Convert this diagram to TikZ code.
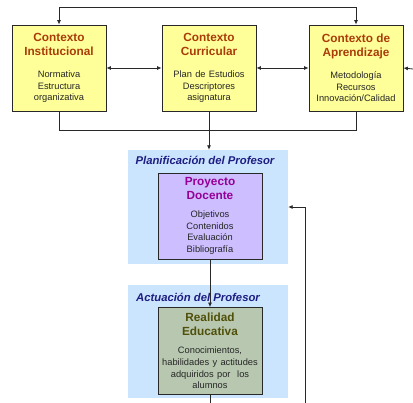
\documentclass[tikz,border=0pt]{standalone}
\usepackage{fontspec}
\setmainfont{Liberation Sans}
\usepackage{tikz}
\usetikzlibrary{arrows.meta}
\usetikzlibrary{calc}

\definecolor{ctxfill}{RGB}{255,255,153}
\definecolor{ctxtitle}{RGB}{170,60,10}
\definecolor{panelfill}{RGB}{204,229,255}
\definecolor{paneltext}{RGB}{30,30,130}
\definecolor{proyfill}{RGB}{204,190,255}
\definecolor{proytitle}{RGB}{150,0,150}
\definecolor{realfill}{RGB}{184,200,176}
\definecolor{realtitle}{RGB}{80,80,10}
\definecolor{linecol}{RGB}{40,40,40}

\newcommand{\boxtitle}[2]{{\fontsize{11.8}{14}\selectfont\bfseries\color{#1}#2\par}}
\newcommand{\boxbody}[1]{{\fontsize{9.3}{11.8}\selectfont\color{black!85}#1\par}}

\tikzset{
	ctxbox/.style={draw=linecol,fill=ctxfill,line width=0.8pt,minimum width=94pt,minimum height=86pt,text width=92pt,align=center,inner sep=1pt},
	innerbox/.style={draw=linecol,line width=0.8pt,minimum width=104pt,minimum height=86pt,text width=102pt,align=center,inner sep=1pt},
	panel/.style={fill=panelfill,minimum width=160pt,minimum height=114pt,inner sep=0pt},
	paneltitle/.style={font=\fontsize{11.3}{13}\selectfont\bfseries\itshape,text=paneltext},
	conn/.style={draw=linecol,line width=0.8pt}
}

\begin{document}
\begin{tikzpicture}[x=1pt,y=-1pt,>/.tip={Latex[length=4.5pt,width=4pt]}]
	\useasboundingbox (0,0) rectangle (413,403);

	% panels behind
	\draw (208,207) node (plan) [panel] {};
	\node [paneltitle] at (205,160) {Planificación del Profesor};
	\draw (208,341.5) node (act) [panel,minimum height=113pt] {};
	\node [paneltitle] at (198,297) {Actuación del Profesor};

	% contexts
	\draw (59,68) node (inst) [ctxbox] {\boxtitle{ctxtitle}{Contexto\\Institucional}\vspace{10pt}\boxbody{Normativa\\Estructura\\organizativa}};
	\draw (209,68) node (cur) [ctxbox] {\boxtitle{ctxtitle}{Contexto\\Curricular}\vspace{10pt}\boxbody{Plan de Estudios\\Descriptores\\asignatura}};
	\draw (356,68) node (apr) [ctxbox] {\boxtitle{ctxtitle}{Contexto de\\Aprendizaje}\vspace{10pt}\boxbody{Metodología\\Recursos\\Innovación/Calidad}};

	% teacher boxes
	\draw (210,216) node (proy) [innerbox,fill=proyfill] {\boxtitle{proytitle}{Proyecto\\Docente}\vspace{6pt}\boxbody{Objetivos\\Contenidos\\Evaluación\\Bibliografía}};
	\draw (210,351) node (real) [innerbox,fill=realfill,minimum height=87pt] {\boxtitle{realtitle}{Realidad\\Educativa}\vspace{6pt}\boxbody{Conocimientos,\\habilidades y actitudes\\adquiridos por\ \ los\\alumnos}};

	\coordinate (rin) at (413,69);
	\coordinate (bot) at (210,403);
	\coordinate (fb) at (305,403);

	\draw[conn,<->] (inst.north) -- ++(0,-17) -| (apr.north);
	\draw[conn,<->] (inst) -- (cur);
	\draw[conn,<->] (cur) -- (apr);
	\draw[conn,->] (rin) -- (apr.east);
	\draw[conn] (inst.south) -- ++(0,19) -| (apr.south);
	\draw[conn,->] (cur.south) -- (cur.south |- plan.north);
	\draw[conn,->] (proy) -- (real);
	\draw[conn] (real) -- (bot);
	\draw[conn,->] (fb) |- (plan.east);
\end{tikzpicture}
\end{document}
